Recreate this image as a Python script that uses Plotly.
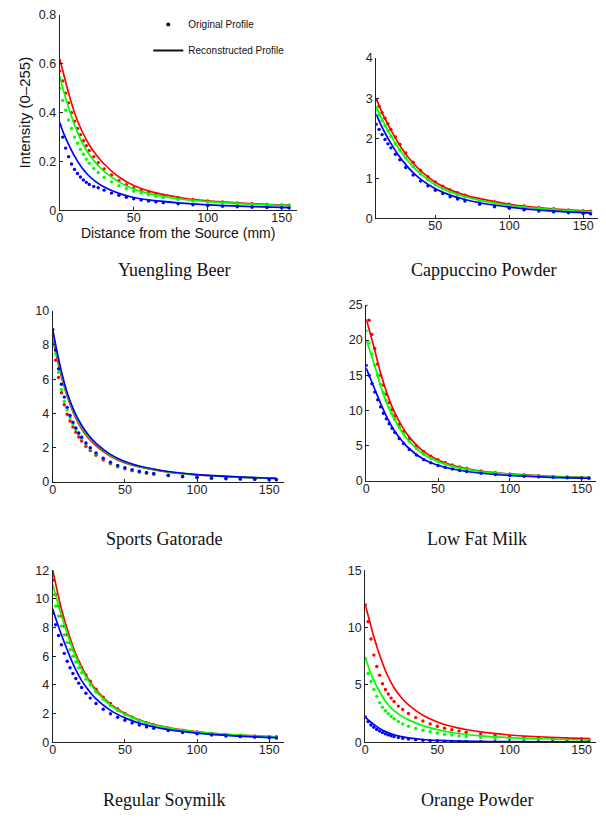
import plotly.graph_objects as go

# ---------------- data ----------------
DOT_X = [0, 2, 4, 6, 8, 10, 12, 14, 16, 18, 20, 23, 26, 30, 35, 40, 45, 50, 55, 60,
         65, 70, 80, 90, 100, 110, 120, 130, 140, 150, 155]
LINE_X = [0, 3, 6, 10, 15, 20, 25, 30, 40, 50, 60, 80, 100, 125, 155]
CAP_DOT_X = [10, 12, 14, 16, 18, 20, 23, 26, 30, 35, 40, 45, 50, 55, 60,
             65, 70, 80, 90, 100, 110, 120, 130, 140, 150, 155]
CAP_LINE_X = [10, 13, 16, 20, 25, 30, 35, 40, 50, 60, 70, 80, 100, 125, 155]

# Yuengling Beer
BEER_R_DOTS = [.57, .53, .48, .44, .40, .365, .335, .31, .285, .265, .245, .22, .195, .17, .145, .122,
               .105, .092, .082, .074, .067, .061, .052, .045, .039, .035, .031, .028, .025, .023, .022]
BEER_G_DOTS = [.50, .45, .41, .37, .335, .30, .275, .25, .23, .21, .193, .172, .155, .136, .117, .101,
               .089, .079, .071, .064, .058, .053, .045, .039, .034, .030, .027, .024, .022, .020, .019]
BEER_B_DOTS = [.35, .30, .255, .22, .19, .168, .151, .137, .125, .115, .106, .098, .093, .083, .071, .062,
               .054, .048, .043, .039, .035, .032, .027, .023, .020, .017, .015, .013, .012, .011, .010]
BEER_R_LINE = [.62, .55, .48, .40, .325, .268, .225, .19, .137, .102, .08, .054, .039, .029, .021]
BEER_G_LINE = [.55, .48, .42, .35, .28, .228, .19, .16, .117, .088, .07, .048, .036, .027, .020]
BEER_B_LINE = [.36, .31, .27, .222, .175, .14, .115, .096, .07, .053, .043, .031, .023, .017, .012]

# Cappuccino Powder
CAP_R_DOTS = [2.95, 2.8, 2.64, 2.5, 2.36, 2.22, 2.03, 1.85, 1.63, 1.4, 1.2, 1.04, .91, .80, .71,
              .64, .58, .48, .41, .35, .31, .27, .24, .21, .19, .18]
CAP_G_DOTS = [2.72, 2.58, 2.44, 2.31, 2.18, 2.05, 1.87, 1.71, 1.51, 1.29, 1.11, .96, .84, .74, .66,
              .59, .53, .44, .38, .32, .28, .25, .22, .19, .17, .16]
CAP_B_DOTS = [2.35, 2.22, 2.09, 1.97, 1.86, 1.76, 1.6, 1.46, 1.27, 1.08, .93, .81, .70, .62, .54,
              .48, .43, .35, .29, .25, .21, .18, .16, .14, .12, .11]
CAP_R_LINE = [3.0, 2.72, 2.48, 2.2, 1.88, 1.6, 1.38, 1.19, .9, .71, .58, .49, .35, .25, .18]
CAP_G_LINE = [2.8, 2.55, 2.33, 2.06, 1.76, 1.5, 1.29, 1.11, .84, .66, .54, .45, .32, .23, .16]
CAP_B_LINE = [2.6, 2.35, 2.13, 1.87, 1.58, 1.34, 1.14, .98, .74, .58, .47, .39, .28, .19, .13]

# Sports Gatorade
GAT_R_DOTS = [8.1, 7.1, 6.1, 5.2, 4.5, 3.95, 3.55, 3.2, 2.9, 2.62, 2.38, 2.08, 1.83, 1.55, 1.27, 1.05,
              .88, .75, .65, .56, .49, .43, .35, .29, .24, .20, .17, .15, .13, .12, .11]
GAT_G_DOTS = [8.5, 7.5, 6.4, 5.4, 4.7, 4.2, 3.75, 3.37, 3.05, 2.77, 2.52, 2.2, 1.93, 1.63, 1.34, 1.1,
              .93, .79, .68, .59, .52, .46, .37, .30, .25, .21, .18, .16, .14, .13, .12]
GAT_B_DOTS = [8.9, 7.7, 6.6, 5.7, 4.95, 4.35, 3.88, 3.48, 3.14, 2.85, 2.6, 2.27, 1.99, 1.68, 1.38, 1.14,
              .96, .82, .70, .61, .54, .48, .38, .31, .26, .22, .19, .17, .15, .13, .12]
GAT_R_LINE = [8.3, 7.2, 6.15, 5.0, 3.9, 3.1, 2.53, 2.1, 1.49, 1.1, .86, .56, .40, .28, .19]
GAT_G_LINE = [8.6, 7.4, 6.3, 5.1, 4.0, 3.2, 2.62, 2.18, 1.55, 1.15, .89, .58, .41, .29, .20]
GAT_B_LINE = [8.9, 7.6, 6.45, 5.2, 4.1, 3.3, 2.7, 2.25, 1.6, 1.18, .92, .60, .42, .30, .20]

# Low Fat Milk
MILK_R_DOTS = [25, 22.8, 20.8, 18.8, 16.6, 15.0, 13.6, 12.3, 11.1, 10.1, 9.2, 8.0, 7.0, 6.0, 4.95, 4.15,
               3.5, 3.0, 2.6, 2.25, 1.98, 1.75, 1.4, 1.15, .97, .83, .72, .62, .55, .48, .45]
MILK_G_DOTS = [21.3, 19.6, 18.0, 16.4, 15.0, 13.7, 12.5, 11.4, 10.4, 9.5, 8.7, 7.6, 6.7, 5.6, 4.6, 3.8,
               3.2, 2.75, 2.38, 2.08, 1.83, 1.62, 1.3, 1.07, .90, .77, .67, .58, .51, .45, .42]
MILK_B_DOTS = [16.4, 15.0, 13.8, 12.6, 11.5, 10.5, 9.6, 8.8, 8.1, 7.45, 6.85, 6.0, 5.3, 4.45, 3.65, 3.0,
               2.55, 2.18, 1.9, 1.66, 1.47, 1.31, 1.06, .88, .75, .64, .56, .49, .43, .38, .36]
MILK_R_LINE = [23, 20.8, 18.5, 15.3, 12.1, 9.6, 7.7, 6.2, 4.15, 2.95, 2.2, 1.38, .97, .67, .46]
MILK_G_LINE = [20, 18.2, 16.3, 13.5, 10.7, 8.6, 6.9, 5.6, 3.75, 2.7, 2.05, 1.3, .90, .63, .43]
MILK_B_LINE = [16, 14.5, 13.0, 11.0, 8.8, 7.0, 5.65, 4.55, 3.05, 2.2, 1.67, 1.07, .75, .52, .36]

# Regular Soymilk
SOY_R_DOTS = [11.3, 10.3, 9.5, 8.8, 8.1, 7.5, 6.95, 6.45, 6.0, 5.6, 5.2, 4.7, 4.25, 3.7, 3.15, 2.7,
              2.32, 2.0, 1.75, 1.54, 1.37, 1.22, 1.0, .84, .72, .62, .55, .49, .44, .40, .38]
SOY_G_DOTS = [10.3, 9.5, 8.8, 8.1, 7.5, 6.95, 6.45, 6.0, 5.6, 5.2, 4.85, 4.4, 4.0, 3.5, 3.0, 2.57,
              2.22, 1.93, 1.69, 1.49, 1.33, 1.19, .97, .81, .69, .60, .53, .47, .42, .38, .36]
SOY_B_DOTS = [9.0, 8.2, 7.45, 6.8, 6.2, 5.65, 5.2, 4.8, 4.45, 4.12, 3.82, 3.42, 3.08, 2.7, 2.3, 1.99,
              1.74, 1.53, 1.35, 1.2, 1.07, .97, .81, .68, .58, .50, .44, .39, .35, .31, .30]
SOY_R_LINE = [12, 10.6, 9.3, 7.9, 6.4, 5.25, 4.35, 3.65, 2.65, 2.0, 1.55, 1.02, .73, .52, .38]
SOY_G_LINE = [11, 9.9, 8.85, 7.6, 6.2, 5.1, 4.25, 3.55, 2.58, 1.95, 1.52, 1.0, .72, .51, .37]
SOY_B_LINE = [9.3, 8.35, 7.5, 6.45, 5.25, 4.3, 3.6, 3.02, 2.22, 1.7, 1.33, .88, .64, .45, .32]

# Orange Powder
ORA_R_DOTS = [12, 10.5, 9.0, 7.6, 6.6, 5.85, 5.1, 4.6, 4.2, 3.85, 3.55, 3.15, 2.85, 2.5, 2.15, 1.85,
              1.6, 1.4, 1.23, 1.09, .97, .87, .71, .59, .50, .43, .38, .34, .31, .28, .27]
ORA_G_DOTS = [7.3, 6.0, 5.3, 4.6, 4.0, 3.45, 3.05, 2.75, 2.48, 2.25, 2.05, 1.8, 1.6, 1.4, 1.2, 1.05,
              .91, .80, .70, .62, .55, .50, .42, .35, .30, .26, .23, .20, .18, .16, .15]
ORA_B_DOTS = [2.2, 1.8, 1.5, 1.3, 1.12, .97, .84, .73, .64, .56, .49, .41, .35, .28, .22, .17,
              .14, .11, .09, .075, .065, .055, .045, .038, .032, .028, .025, .022, .020, .018, .017]
ORA_R_LINE = [12, 10.6, 9.2, 7.6, 5.95, 4.75, 3.9, 3.25, 2.35, 1.77, 1.37, .90, .63, .45, .32]
ORA_G_LINE = [7.4, 6.3, 5.4, 4.4, 3.4, 2.75, 2.3, 1.95, 1.45, 1.1, .85, .55, .40, .28, .20]
ORA_B_LINE = [2.2, 1.85, 1.55, 1.2, .88, .65, .50, .38, .24, .16, .11, .07, .05, .04, .03]

TITLES = ["Yuengling Beer", "Cappuccino Powder", "Sports Gatorade",
          "Low Fat Milk", "Regular Soymilk", "Orange Powder"]
X_TICKS = [0, 50, 100, 150]
CAP_X_TICKS = [50, 100, 150]
BEER_Y_TICKS = [0, 0.2, 0.4, 0.6, 0.8]
BEER_Y_LABELS = ["0", "0.2", "0.4", "0.6", "0.8"]
CAP_Y_TICKS = [0, 1, 2, 3, 4]
GAT_Y_TICKS = [0, 2, 4, 6, 8, 10]
MILK_Y_TICKS = [0, 5, 10, 15, 20, 25]
SOY_Y_TICKS = [0, 2, 4, 6, 8, 10, 12]
ORA_Y_TICKS = [0, 5, 10, 15]

# ---------------- layout ----------------
W, H = 606, 820
RED, GREEN, BLUE = "#ff0000", "#00ff00", "#0000ff"
TICK_FONT = dict(family="Liberation Sans, Arial, sans-serif", size=12.5, color="#222222")
TITLE_FONT = dict(family="Liberation Serif, Times New Roman, serif", size=18, color="#111111")

panels = [
    # pixel box: left, right, top, bottom
    dict(box=(57, 295, 8, 207), xr=[0, 160], yr=[0, 0.8], dx=DOT_X, lx=LINE_X, xt=X_TICKS,
         yt=BEER_Y_TICKS, yl=BEER_Y_LABELS,
         d=(BEER_R_DOTS, BEER_G_DOTS, BEER_B_DOTS), l=(BEER_R_LINE, BEER_G_LINE, BEER_B_LINE)),
    dict(box=(375, 598, 52, 215), xr=[10, 160], yr=[0, 4], dx=CAP_DOT_X, lx=CAP_LINE_X, xt=CAP_X_TICKS,
         yt=CAP_Y_TICKS, yl=[str(v) for v in CAP_Y_TICKS],
         d=(CAP_R_DOTS, CAP_G_DOTS, CAP_B_DOTS), l=(CAP_R_LINE, CAP_G_LINE, CAP_B_LINE)),
    dict(box=(50, 282, 309, 483), xr=[0, 160], yr=[0, 10], dx=DOT_X, lx=LINE_X, xt=X_TICKS,
         yt=GAT_Y_TICKS, yl=[str(v) for v in GAT_Y_TICKS],
         d=(GAT_R_DOTS, GAT_G_DOTS, GAT_B_DOTS), l=(GAT_R_LINE, GAT_G_LINE, GAT_B_LINE)),
    dict(box=(365, 596, 303, 482), xr=[0, 160], yr=[0, 25], dx=DOT_X, lx=LINE_X, xt=X_TICKS,
         yt=MILK_Y_TICKS, yl=[str(v) for v in MILK_Y_TICKS],
         d=(MILK_R_DOTS, MILK_G_DOTS, MILK_B_DOTS), l=(MILK_R_LINE, MILK_G_LINE, MILK_B_LINE)),
    dict(box=(50, 282, 573, 748), xr=[0, 160], yr=[0, 12], dx=DOT_X, lx=LINE_X, xt=X_TICKS,
         yt=SOY_Y_TICKS, yl=[str(v) for v in SOY_Y_TICKS],
         d=(SOY_R_DOTS, SOY_G_DOTS, SOY_B_DOTS), l=(SOY_R_LINE, SOY_G_LINE, SOY_B_LINE)),
    dict(box=(364, 596, 573, 748), xr=[0, 160], yr=[0, 15], dx=DOT_X, lx=LINE_X, xt=X_TICKS,
         yt=ORA_Y_TICKS, yl=[str(v) for v in ORA_Y_TICKS],
         d=(ORA_R_DOTS, ORA_G_DOTS, ORA_B_DOTS), l=(ORA_R_LINE, ORA_G_LINE, ORA_B_LINE)),
]
TITLE_Y = [268, 268, 541, 541, 807, 807]

fig = go.Figure()
layout = {}
annotations = []
for i, p in enumerate(panels):
    n = "" if i == 0 else str(i + 1)
    xa, ya = "x" + n, "y" + n
    left, right, top, bottom = p["box"]
    for dots, line, col in zip(p["d"], p["l"], (RED, GREEN, BLUE)):
        fig.add_trace(go.Scatter(x=p["dx"], y=dots, mode="markers", xaxis=xa, yaxis=ya,
                                 marker=dict(color=col, size=3.4, symbol="circle"),
                                 showlegend=False))
        fig.add_trace(go.Scatter(x=p["lx"], y=line, mode="lines", xaxis=xa, yaxis=ya,
                                 line=dict(color=col, width=1.7, shape="spline", smoothing=1.0),
                                 showlegend=False))
    common = dict(showline=True, linecolor="#222222", linewidth=1, showgrid=False, zeroline=False,
                  ticks="inside", ticklen=3, tickcolor="#222222", tickfont=TICK_FONT, mirror=False)
    layout["xaxis" + n] = dict(common, domain=[left / W, right / W], range=p["xr"],
                               tickvals=p["xt"], ticktext=[str(v) for v in p["xt"]],
                               anchor=ya, ticklabelstandoff=-4)
    layout["yaxis" + n] = dict(common, domain=[1 - bottom / H, 1 - top / H], range=p["yr"],
                               tickvals=p["yt"], ticktext=p["yl"], anchor=xa)
    annotations.append(dict(text=TITLES[i], x=(left + right) / 2 / W - 4 / W, y=1 - TITLE_Y[i] / H,
                            xref="paper", yref="paper", showarrow=False, font=TITLE_FONT,
                            xanchor="center", yanchor="middle"))

layout["xaxis"]["title"] = dict(text="Distance from the Source (mm)", standoff=0,
                                font=dict(family="Liberation Sans, Arial, sans-serif", size=14, color="#111111"))
layout["yaxis"]["title"] = dict(text="Intensity (0–255)", standoff=4,
                                font=dict(family="Liberation Sans, Arial, sans-serif", size=15, color="#111111"))

# legend entries (panel 1)
fig.add_trace(go.Scatter(x=[None], y=[None], mode="markers", name="Original Profile",
                         marker=dict(color="#111111", size=4), legendgroup="a", showlegend=True))
fig.add_trace(go.Scatter(x=[None], y=[None], mode="lines", name="Reconstructed Profile",
                         line=dict(color="#111111", width=2), legendgroup="b", showlegend=True))

fig.update_layout(
    width=W, height=H, autosize=False,
    margin=dict(l=0, r=0, t=0, b=0),
    paper_bgcolor="white", plot_bgcolor="white",
    annotations=annotations,
    legend=dict(x=146 / W, y=1 - 3 / H, xanchor="left", yanchor="top",
                bgcolor="rgba(0,0,0,0)", font=dict(family="Liberation Sans, Arial, sans-serif", size=10,
                                                   color="#111111"),
                traceorder="grouped", tracegroupgap=7, itemwidth=30),
    **layout,
)

fig.write_html("out.html")
